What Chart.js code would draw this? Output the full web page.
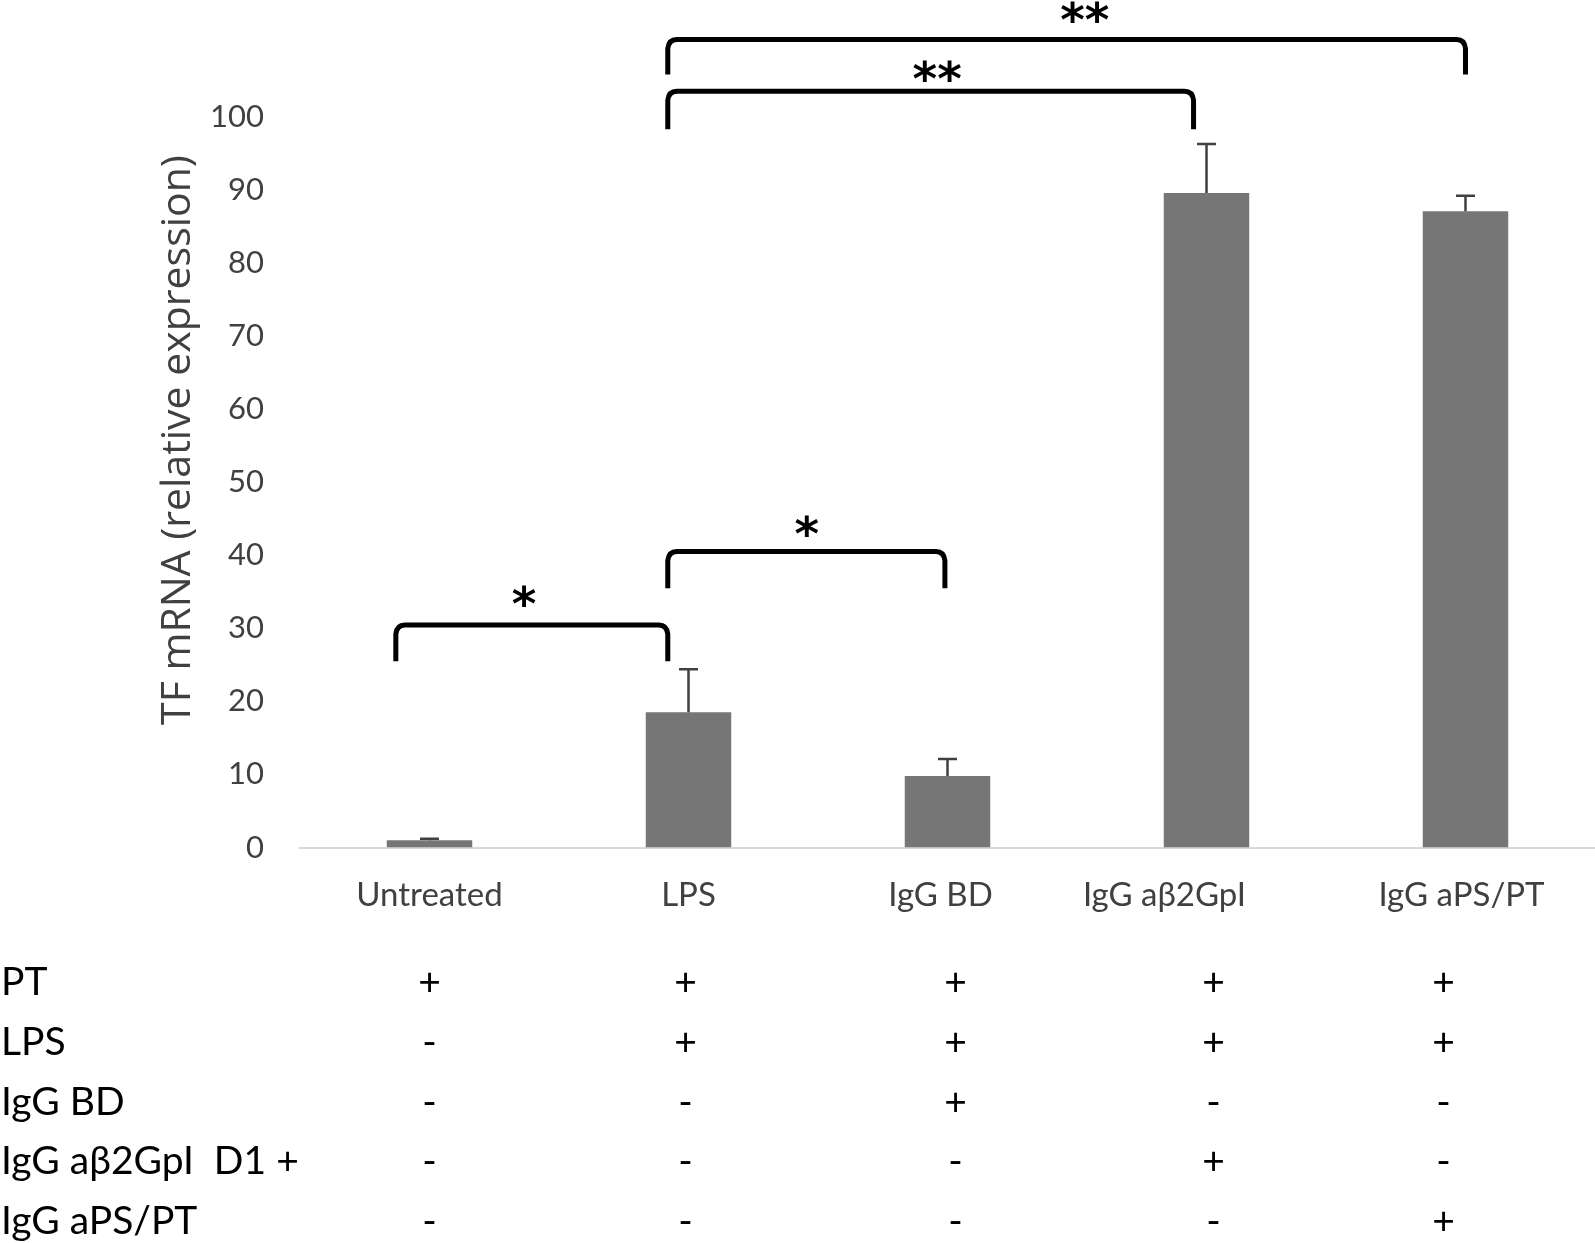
<!DOCTYPE html>
<html>
<head>
<meta charset="utf-8">
<script src="https://cdn.jsdelivr.net/npm/chart.js@4.4.1/dist/chart.umd.min.js"></script>
<style>
  html, body { margin: 0; padding: 0; background: #fff; }
  #wrap { width: 1595px; height: 1243px; }
</style>
</head>
<body>
<div id="wrap"><canvas id="tfChart" width="1595" height="1243"></canvas></div>
<script>
const categories = ['Untreated', 'LPS', 'IgG BD', 'IgG aβ2GpI', 'IgG aPS/PT'];
const tfValues = [1.0, 18.5, 9.8, 89.6, 87.1];
const tfErrors = [0.2, 5.9, 2.3, 6.7, 2.1];
const yTicks = [0, 10, 20, 30, 40, 50, 60, 70, 80, 90, 100];

const rowLabels = ['PT', 'LPS', 'IgG BD', 'IgG aβ2GpI  D1 +', 'IgG aPS/PT'];
const rowSigns = [
    ['+', '+', '+', '+', '+'],
    ['-', '+', '+', '+', '+'],
    ['-', '-', '+', '-', '-'],
    ['-', '-', '-', '+', '-'],
    ['-', '-', '-', '-', '+']
];

// significance brackets: ends and mark in category units, heights in axis units
const brackets = [
    { from: -0.13, to: 0.92, top: 30.45, base: 25.5, mark: '*', markAt: 0.365, markY: 34.3 },
    { from: 0.92, to: 1.99, top: 40.5, base: 35.5, mark: '*', markAt: 1.457, markY: 43.9 },
    { from: 0.92, to: 2.95, top: 103.5, base: 98.3, mark: '**', markAt: 1.96, markY: 106.2 },
    { from: 0.92, to: 4.0, top: 110.6, base: 105.8, mark: '**', markAt: 2.53, markY: 114.2 }
];

// small hand-made shifts seen in the figure
const labelShift = [0, 0, -7, -42, -4];
const signShift = [0, -3, 8, 7, -22];

const extras = {
    id: 'extras',
    afterDatasetsDraw(chart) {
        const c = chart.ctx;
        const x = chart.scales.x;
        const y = chart.scales.y;
        const catX = v => {
            const p0 = x.getPixelForValue(0);
            const p1 = x.getPixelForValue(1);
            return p0 + v * (p1 - p0);
        };

        // error bars (upper only)
        c.save();
        c.strokeStyle = '#404040';
        c.lineWidth = 2.5;
        tfValues.forEach((v, i) => {
            const px = x.getPixelForValue(i);
            const y0 = y.getPixelForValue(v);
            const y1 = y.getPixelForValue(v + tfErrors[i]);
            c.beginPath();
            c.moveTo(px, y0);
            c.lineTo(px, y1);
            c.moveTo(px - 9.5, y1);
            c.lineTo(px + 9.5, y1);
            c.stroke();
        });
        c.restore();

        // brackets
        c.save();
        c.strokeStyle = '#000';
        c.fillStyle = '#000';
        c.lineWidth = 5;
        c.font = 'bold 47px "DejaVu Sans"';
        c.textAlign = 'center';
        c.textBaseline = 'alphabetic';
        brackets.forEach(b => {
            const xa = catX(b.from);
            const xb = catX(b.to);
            const yt = y.getPixelForValue(b.top);
            const yb = y.getPixelForValue(b.base);
            const r = 9;
            c.beginPath();
            c.moveTo(xa, yb);
            c.lineTo(xa, yt + r);
            c.quadraticCurveTo(xa + 1, yt, xa + r, yt);
            c.lineTo(xb - r, yt);
            c.quadraticCurveTo(xb - 1, yt, xb, yt + r);
            c.lineTo(xb, yb);
            c.stroke();
            c.fillText(b.mark, catX(b.markAt), y.getPixelForValue(b.markY) + 23);
        });
        c.restore();
    },
    afterDraw(chart) {
        const c = chart.ctx;
        const x = chart.scales.x;

        // category labels
        c.save();
        c.fillStyle = '#404040';
        c.font = '33px Lato';
        c.textAlign = 'center';
        c.textBaseline = 'middle';
        categories.forEach((lab, i) => {
            c.fillText(lab, x.getPixelForValue(i) + labelShift[i], 895);
        });
        c.restore();

        // y axis title
        c.save();
        c.fillStyle = '#404040';
        c.font = '41px "Open Sans"';
        c.textAlign = 'center';
        c.textBaseline = 'middle';
        c.translate(178, 440);
        c.rotate(-Math.PI / 2);
        c.fillText('TF mRNA (relative expression)', 0, 0);
        c.restore();

        // treatment table
        c.save();
        c.fillStyle = '#000';
        c.font = '39px Lato';
        c.textBaseline = 'middle';
        const rowY = [982, 1042, 1102, 1161, 1221];
        rowLabels.forEach((lab, r) => {
            c.textAlign = 'left';
            c.fillText(lab, 1, rowY[r]);
            c.textAlign = 'center';
            rowSigns[r].forEach((s, i) => {
                c.fillText(s, x.getPixelForValue(i) + signShift[i], rowY[r]);
            });
        });
        c.restore();
    }
};

const ctx = document.getElementById('tfChart').getContext('2d');
new Chart(ctx, {
    type: 'bar',
    data: {
        labels: categories,
        datasets: [{
            label: 'TF mRNA',
            data: tfValues,
            backgroundColor: '#767676',
            borderWidth: 0,
            barPercentage: 0.33,
            categoryPercentage: 1
        }]
    },
    options: {
        responsive: false,
        animation: false,
        devicePixelRatio: 1,
        layout: { padding: 0 },
        plugins: {
            legend: { display: false },
            tooltip: { enabled: false }
        },
        scales: {
            x: {
                grid: { display: false },
                border: { color: '#d9d9d9', width: 2 },
                ticks: { display: false },
                afterFit: s => { s.height = 395.5; }
            },
            y: {
                min: 0,
                max: 116,
                grid: { display: false, drawTicks: false },
                border: { display: false },
                afterBuildTicks: s => { s.ticks = yTicks.map(v => ({ value: v })); },
                ticks: {
                    padding: 36,
                    color: '#404040',
                    font: { family: 'Lato', size: 31 }
                },
                afterFit: s => {
                    s.width = 300;
                    s.paddingTop = 0;
                    s.paddingBottom = 0;
                }
            }
        }
    },
    plugins: [extras]
});
</script>
</body>
</html>
